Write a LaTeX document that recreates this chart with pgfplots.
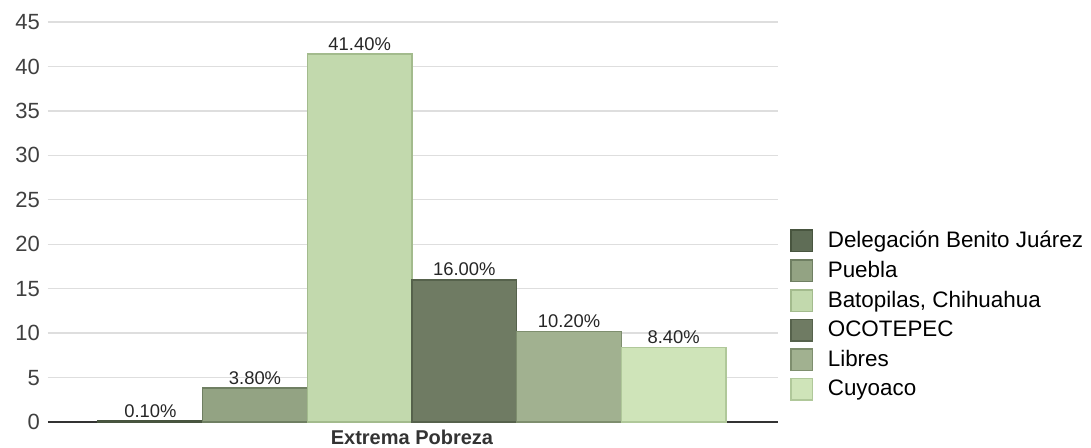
\documentclass[border=0pt]{standalone}
\usepackage{fontspec}
\setmainfont{Liberation Sans}
\usepackage{pgfplots}
\pgfplotsset{compat=1.18}

% bar colours
\definecolor{cA}{HTML}{5F6D56}\definecolor{bA}{HTML}{48553F}
\definecolor{cB}{HTML}{93A383}\definecolor{bB}{HTML}{6F7F62}
\definecolor{cC}{HTML}{C2D9AD}\definecolor{bC}{HTML}{A3BB8D}
\definecolor{cD}{HTML}{6F7B63}\definecolor{bD}{HTML}{56624C}
\definecolor{cE}{HTML}{A1B190}\definecolor{bE}{HTML}{7E8E6E}
\definecolor{cF}{HTML}{CFE4B9}\definecolor{bF}{HTML}{B0C89A}

\begin{document}
\begin{tikzpicture}
\path[use as bounding box] (-24pt,-12.5pt) rectangle (521.5pt,211pt);
\begin{axis}[
    scale only axis,
    width=365pt, height=200pt,
    at={(0,0)}, anchor=south west,
    ybar=0pt,
    bar width=1,
    xmin=-3.478, xmax=3.497,
    ymin=0, ymax=45,
    ytick distance=5,
    xtick={0},
    xticklabels={\textbf{Extrema Pobreza}},
    major tick length=0pt,
    axis x line=bottom,
    axis y line=left,
    x axis line style={-, line width=1pt, color=black!80},
    y axis line style={draw=none},
    ymajorgrids,
    grid style={color=black!13, line width=0.7pt},
    tick label style={text=black!75},
    yticklabel style={font=\fontsize{11}{13}\selectfont, xshift=-0.5pt},
    xticklabel style={font=\fontsize{10}{12}\selectfont, yshift=-0.5pt, text=black!80},
    /pgf/number format/assume math mode=true,
    nodes near coords={\pgfmathprintnumber[fixed,fixed zerofill,precision=2]{\pgfplotspointmeta}\%},
    every node near coord/.append style={font=\fontsize{9.2}{10}\selectfont, text=black!85, inner sep=1.5pt},
    legend style={at={(1.008,0.268)}, anchor=west, draw=none, fill=none,
        font=\fontsize{11.2}{13}\selectfont, row sep=2.9pt,
        nodes={inner sep=1.2pt},
        /tikz/every odd column/.append style={column sep=6pt}},
    legend cell align=left,
    legend image code/.code={\draw[#1, line width=0.8pt] (0pt,-5.4pt) rectangle (10.8pt,5.4pt);},
]
\addplot[fill=cA, draw=bA, line width=0.8pt] coordinates {(0,0.1)};
\addlegendentry{Delegación Benito Juárez}
\addplot[fill=cB, draw=bB, line width=0.8pt] coordinates {(0,3.8)};
\addlegendentry{Puebla}
\addplot[fill=cC, draw=bC, line width=0.8pt] coordinates {(0,41.4)};
\addlegendentry{Batopilas, Chihuahua}
\addplot[fill=cD, draw=bD, line width=0.8pt] coordinates {(0,16.0)};
\addlegendentry{OCOTEPEC}
\addplot[fill=cE, draw=bE, line width=0.8pt] coordinates {(0,10.2)};
\addlegendentry{Libres}
\addplot[fill=cF, draw=bF, line width=0.8pt] coordinates {(0,8.4)};
\addlegendentry{Cuyoaco}
\end{axis}
\end{tikzpicture}
\end{document}
